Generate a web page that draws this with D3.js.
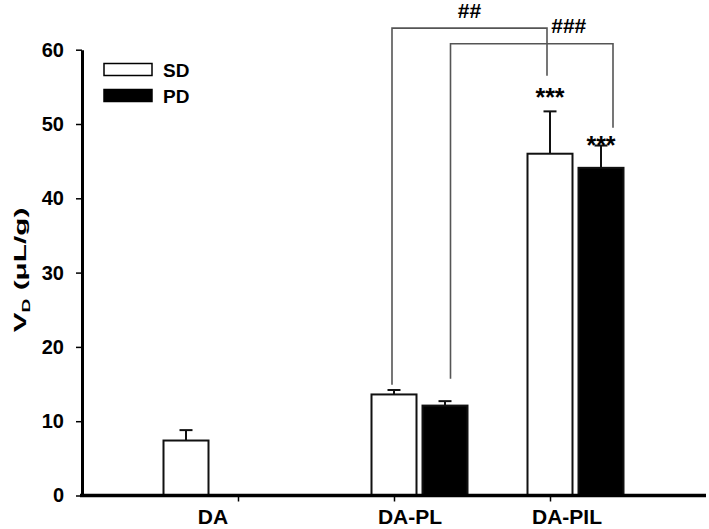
<!DOCTYPE html>
<html><head><meta charset="utf-8">
<script src="https://cdn.jsdelivr.net/npm/d3@7"></script>
<style>body{margin:0;background:#fff}svg{display:block}text{font-family:"Liberation Sans",Arial,sans-serif;font-weight:bold}</style>
</head><body><svg id="c" width="709" height="529"></svg>
<script>
// ---- data ----
const categories = ["DA", "DA-PL", "DA-PIL"];
const seriesNames = ["SD", "PD"];
const sdMeans  = [7.4, 13.6, 46.0];
const sdErrors = [1.4, 0.6, 5.7];
const pdMeans  = [null, 12.1, 44.1];
const pdErrors = [null, 0.6, 3.0];
const sdStars = ["", "", "***"];
const pdStars = ["", "", "***"];
const sdStarLevels = [null, null, 52.4];
const pdStarLevels = [null, null, 46.0];
const yTicks = [0, 10, 20, 30, 40, 50, 60];
const compLabels = ["##", "###"];
const compFrom = [["DA-PL", "SD"], ["DA-PL", "PD"]];
const compTo   = [["DA-PIL", "SD"], ["DA-PIL", "PD"]];
const compFromEnd = [14.9, 15.7];
const compToEnd   = [56.5, 49.5];
const compTop     = [62.9, 60.8];

// ---- layout ----
const L = { left: 82, right: 706, y0: 495.5, yTop: 49.7, barW: 47, gap: 4 };
const groupShift = { "DA": -52, "DA-PL": 0, "DA-PIL": 0 };
const labelShift = { "DA": -25, "DA-PL": 16, "DA-PIL": 17 };
const compDx = [[-2, -3], [5.5, 12]];
const compLabelDx = [0, 37];
const compLabelDy = [-10, -10.5];

const svg = d3.select("#c");
const y = d3.scaleLinear().domain([0, 60]).range([L.y0, L.yTop]);
const x = d3.scalePoint().domain(categories).range([L.left, L.right]).padding(1);

function barX(cat, s) {
  const sdx = x(cat) + groupShift[cat] - L.barW / 2;
  return s === "SD" ? sdx : sdx + L.barW + L.gap;
}
function barC(cat, s) { return barX(cat, s) + L.barW / 2; }

// rows
const rows = [];
categories.forEach((c, i) => {
  rows.push({ cat: c, s: "SD", v: sdMeans[i], e: sdErrors[i], star: sdStars[i], lvl: sdStarLevels[i] });
  if (pdMeans[i] != null) rows.push({ cat: c, s: "PD", v: pdMeans[i], e: pdErrors[i], star: pdStars[i], lvl: pdStarLevels[i] });
});

// error bars (behind bars)
const eg = svg.append("g").attr("stroke", "#111").attr("stroke-width", 2);
rows.forEach(r => {
  const cx = barC(r.cat, r.s);
  eg.append("line").attr("x1", cx).attr("x2", cx).attr("y1", y(r.v)).attr("y2", y(r.v + r.e));
  eg.append("line").attr("x1", cx - 6.5).attr("x2", cx + 6.5).attr("y1", y(r.v + r.e)).attr("y2", y(r.v + r.e));
});

// bars
svg.append("g").selectAll("rect").data(rows).join("rect")
  .attr("x", d => barX(d.cat, d.s) + 1)
  .attr("width", L.barW - 2)
  .attr("y", d => y(d.v))
  .attr("height", d => y(0) - y(d.v))
  .attr("fill", d => d.s === "SD" ? "#fff" : "#000")
  .attr("stroke", "#111").attr("stroke-width", 2);

// stars
svg.append("g").selectAll("text").data(rows.filter(r => r.star)).join("text")
  .attr("x", d => barC(d.cat, d.s)).attr("y", d => y(d.lvl))
  .attr("text-anchor", "middle").attr("font-size", 25).text(d => d.star);

// comparison brackets
compLabels.forEach((lab, i) => {
  const x1 = barC(compFrom[i][0], compFrom[i][1]) + compDx[i][0];
  const x2 = barC(compTo[i][0], compTo[i][1]) + compDx[i][1];
  const yt = y(compTop[i]);
  svg.append("path")
    .attr("d", `M${x1},${y(compFromEnd[i])}V${yt}H${x2}V${y(compToEnd[i])}`)
    .attr("fill", "none").attr("stroke", "#555").attr("stroke-width", 1.6);
  svg.append("text").attr("x", (x1 + x2) / 2 + compLabelDx[i]).attr("y", yt + compLabelDy[i])
    .attr("text-anchor", "middle").attr("font-size", 21).text(lab);
});

// y axis
const ya = svg.append("g").attr("transform", `translate(${L.left},0)`)
  .call(d3.axisLeft(y).tickValues(yTicks).tickSize(6).tickSizeOuter(0).tickPadding(12));
ya.select(".domain").attr("stroke", "#000").attr("stroke-width", 3);
ya.selectAll(".tick line").attr("stroke", "#000").attr("stroke-width", 1.5);
ya.selectAll(".tick text").attr("font-size", 20).attr("fill", "#000")
  .style("font-family", '"Liberation Sans",Arial,sans-serif').style("font-weight", "bold");

// x axis
const xa = svg.append("g").attr("transform", `translate(0,${L.y0})`)
  .call(d3.axisBottom(x).tickSize(6).tickSizeOuter(0).tickFormat(""));
xa.select(".domain").attr("d", `M${L.left - 2},0H${L.right}`).attr("stroke", "#000").attr("stroke-width", 3.5);
xa.selectAll(".tick line").attr("stroke", "#000").attr("stroke-width", 1.5);
svg.append("g").selectAll("text").data(categories).join("text")
  .attr("x", d => x(d) + labelShift[d]).attr("y", 524)
  .attr("text-anchor", "middle").attr("font-size", 21).text(d => d);

// y label
const yl = svg.append("text")
  .attr("transform", "translate(26,270) rotate(-90) scale(1.75,1)")
  .attr("text-anchor", "middle").attr("font-size", 17);
yl.append("tspan").text("V");
yl.append("tspan").attr("font-size", 11).attr("dy", 4).text("D");
yl.append("tspan").attr("dy", -4).text(" (\u03bcL/g)");

// legend
const lg = svg.append("g");
seriesNames.forEach((s, i) => {
  const yy = 63.5 + i * 26;
  lg.append("rect").attr("x", 104).attr("y", yy).attr("width", 48).attr("height", 12)
    .attr("fill", s === "SD" ? "#fff" : "#000").attr("stroke", "#000").attr("stroke-width", 1.5);
  lg.append("text").attr("x", 163).attr("y", yy + 13).attr("font-size", 19).text(s);
});
</script></body></html>
